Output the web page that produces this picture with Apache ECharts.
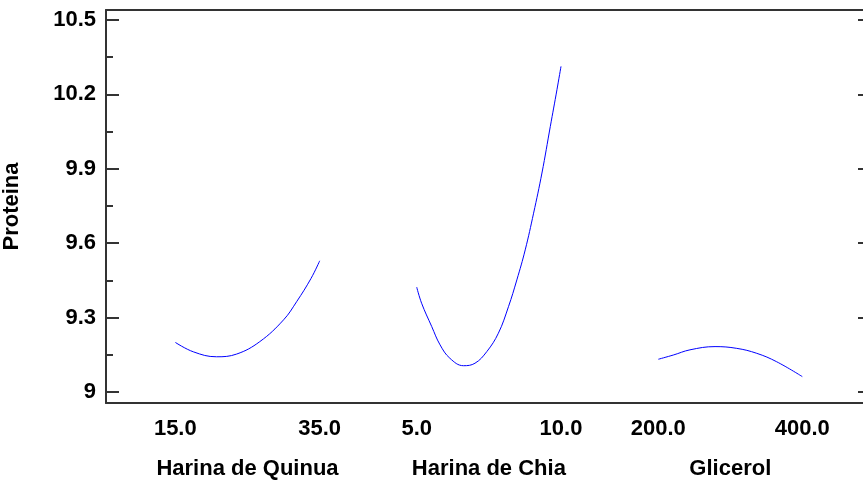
<!DOCTYPE html>
<html>
<head>
<meta charset="utf-8">
<script src="https://cdn.jsdelivr.net/npm/echarts@6/dist/echarts.min.js"></script>
<style>html,body{margin:0;padding:0;background:#fff;overflow:hidden}#c{width:863px;height:487px}</style>
</head>
<body>
<div id="c"></div>
<script>
// ---- data ----
const factorNames = ['Harina de Quinua', 'Harina de Chia', 'Glicerol'];
const factorRanges = [[15, 35], [5, 10], [200, 400]];
const quinuaX = [15, 17.5, 20.7, 23.5, 26.7, 30.0, 31.8, 33.8, 35];
const quinuaY = [9.200, 9.162, 9.142, 9.153, 9.203, 9.291, 9.364, 9.458, 9.529];
const chiaX = [5.00, 5.17, 5.52, 5.81, 6.15, 6.62, 7.02, 7.43, 7.83, 8.18, 8.47, 8.76, 9.05, 9.34, 9.63, 9.86, 10.0];
const chiaY = [9.423, 9.358, 9.264, 9.190, 9.136, 9.106, 9.116, 9.163, 9.237, 9.344, 9.452, 9.573, 9.721, 9.883, 10.071, 10.219, 10.313];
const glicX = [200, 220.8, 244, 278.8, 308.9, 336.7, 364.4, 400];
const glicY = [9.132, 9.149, 9.170, 9.183, 9.176, 9.156, 9.122, 9.062];
const yMajorTicks = [9, 9.3, 9.6, 9.9, 10.2, 10.5];
const yMinorTicks = [9.15, 9.45, 9.75, 10.05, 10.35];
const yName = 'Proteina';

// ---- layout ----
const gridLeft = 106, gridTop = 10, gridW = 765, gridH = 393;
const segPx = [[175.3, 319.7], [416.7, 561], [658.3, 802.3]];
const yMin = 8.9556, yMax = 10.5404;
const font = 'Liberation Sans, Arial, sans-serif';
const axisCol = '#333333';
const fs = 22;
const hiddenLine = {show: false, onZero: false};

const xAxes = factorRanges.map((r, i) => {
  const s = (r[1] - r[0]) / (segPx[i][1] - segPx[i][0]);
  const mn = r[0] - (segPx[i][0] - gridLeft) * s;
  return {
    type: 'value', gridIndex: 0, position: 'bottom', offset: 0,
    min: mn, max: mn + gridW * s,
    splitLine: {show: false},
    axisLine: i === 0 ? {show: true, onZero: false, lineStyle: {color: axisCol, width: 2}} : hiddenLine,
    axisTick: {show: false},
    axisLabel: {
      customValues: r, margin: 15,
      formatter: v => Number(v).toFixed(1),
      fontFamily: font, fontWeight: 'bold', fontSize: fs, color: '#000'
    }
  };
});
// top frame line
xAxes.push({
  type: 'value', gridIndex: 0, position: 'top', offset: 0, min: 0, max: 1,
  splitLine: {show: false}, axisTick: {show: false}, axisLabel: {show: false},
  axisLine: {show: true, onZero: false, lineStyle: {color: axisCol, width: 2}}
});

const seriesData = [
  quinuaX.map((x, k) => [x, quinuaY[k]]),
  chiaX.map((x, k) => [x, chiaY[k]]),
  glicX.map((x, k) => [x, glicY[k]])
];

const chart = echarts.init(document.getElementById('c'), null, {renderer: 'canvas'});
chart.setOption({
  animation: false,
  backgroundColor: '#fff',
  grid: {left: gridLeft, top: gridTop, width: gridW, height: gridH, show: false,
         outerBoundsMode: 'none', containLabel: false},
  xAxis: xAxes,
  yAxis: [
    {
      type: 'value', min: yMin, max: yMax, position: 'left',
      name: yName, nameLocation: 'middle', nameGap: 83,
      nameTextStyle: {fontFamily: font, fontWeight: 'bold', fontSize: fs, color: '#000'},
      splitLine: {show: false},
      axisLine: {show: true, onZero: false, lineStyle: {color: axisCol, width: 2}},
      axisTick: {show: true, inside: true, length: 13, customValues: yMajorTicks,
                 lineStyle: {color: axisCol, width: 2}},
      axisLabel: {customValues: yMajorTicks, margin: 10, formatter: v => String(v),
                  fontFamily: font, fontWeight: 'bold', fontSize: fs, color: '#000'}
    },
    {
      type: 'value', min: yMin, max: yMax, position: 'left', offset: 0,
      splitLine: {show: false}, axisLine: hiddenLine, axisLabel: {show: false},
      axisTick: {show: true, inside: true, length: 7, customValues: yMinorTicks,
                 lineStyle: {color: axisCol, width: 2}}
    },
    {
      // right-hand major ticks, placed at the grid's right edge
      type: 'value', min: yMin, max: yMax, position: 'left', offset: -gridW,
      splitLine: {show: false}, axisLine: hiddenLine, axisLabel: {show: false},
      axisTick: {show: true, inside: false, length: 13, customValues: yMajorTicks,
                 lineStyle: {color: axisCol, width: 2}}
    }
  ],
  series: seriesData.map((d, i) => ({
    type: 'line', xAxisIndex: i, yAxisIndex: 0, data: d,
    showSymbol: false, smooth: 0.4,
    lineStyle: {color: '#0000ff', width: 1}
  }))
});

chart.setOption({
  graphic: factorNames.map((n, i) => ({
    type: 'text',
    x: chart.convertToPixel({xAxisIndex: i}, (factorRanges[i][0] + factorRanges[i][1]) / 2),
    y: 469,
    style: {text: n, fontFamily: font, fontWeight: 'bold', fontSize: fs, fill: '#000',
            align: 'center', verticalAlign: 'middle'}
  }))
});
</script>
</body>
</html>
